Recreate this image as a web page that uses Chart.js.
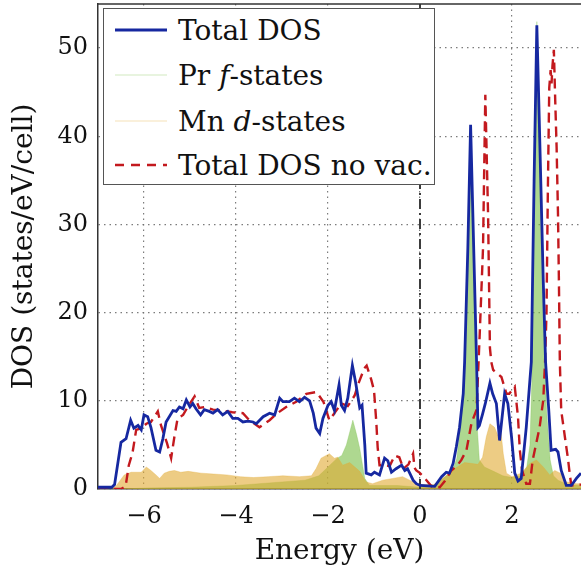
<!DOCTYPE html>
<html>
<head>
<meta charset="utf-8">
<script src="https://cdn.jsdelivr.net/npm/chart.js@4.4.1/dist/chart.umd.min.js"></script>
<style>
  html, body { margin: 0; padding: 0; background: #fff; }
  #wrap { position: relative; width: 581px; height: 575px; overflow: hidden; }
  #dos { position: absolute; left: 0; top: 0; }
  #legend {
    position: absolute; left: 103px; top: 8px; width: 330px; height: 175px;
    border: 1.5px solid #555; background: #fff;
    font-family: 'DejaVu Serif', serif; font-size: 28px; color: #111;
  }
  .row { position: absolute; left: 0; height: 40px; display: flex; align-items: center; white-space: nowrap; }
  .row svg { margin-left: 11px; margin-right: 11px; }
</style>
</head>
<body>
<div id="wrap">
  <canvas id="dos" width="581" height="575"></canvas>
  <div id="legend">
    <div class="row" style="top:1px"><svg width="52" height="6"><line x1="0" y1="3" x2="52" y2="3" stroke="rgb(22,40,160)" stroke-width="2.8"/></svg>Total DOS</div>
    <div class="row" style="top:46px"><svg width="52" height="6"><line x1="0" y1="3" x2="52" y2="3" stroke="rgba(120,190,70,0.35)" stroke-width="1"/></svg>Pr&nbsp;<i>f</i>-states</div>
    <div class="row" style="top:92px"><svg width="52" height="6"><line x1="0" y1="3" x2="52" y2="3" stroke="rgba(225,170,50,0.35)" stroke-width="1"/></svg>Mn&nbsp;<i>d</i>-states</div>
    <div class="row" style="top:136px"><svg width="52" height="6"><line x1="0" y1="3" x2="52" y2="3" stroke="rgb(195,25,30)" stroke-width="2.4" stroke-dasharray="9 7"/></svg>Total DOS no vac.</div>
  </div>
</div>
<script>
// Total DOS (with vacancy)
const totalE = [-7.0,-6.7,-6.64,-6.5,-6.39,-6.29,-6.22,-6.13,-6.06,-6.0,
  -5.92,-5.85,-5.74,-5.66,-5.59,-5.52,-5.37,-5.3,-5.23,-5.15,
  -5.08,-5.0,-4.94,-4.87,-4.77,-4.69,-4.58,-4.5,-4.4,-4.29,
  -4.18,-4.07,-3.96,-3.85,-3.74,-3.63,-3.56,-3.41,-3.27,-3.16,
  -3.05,-2.98,-2.84,-2.73,-2.62,-2.51,-2.4,-2.32,-2.26,-2.18,
  -2.11,-2.0,-1.93,-1.86,-1.76,-1.71,-1.64,-1.57,-1.47,-1.4,
  -1.31,-1.26,-1.2,-1.17,-1.06,-0.99,-0.88,-0.77,-0.7,-0.62,
  -0.52,-0.4,-0.33,-0.27,-0.15,-0.08,0.0,0.32,0.47,0.57,
  0.64,0.72,0.79,0.86,0.94,0.97,1.04,1.1,1.23,1.26,
  1.29,1.36,1.42,1.52,1.58,1.66,1.73,1.84,1.91,1.99,
  2.06,2.13,2.2,2.31,2.39,2.42,2.48,2.54,2.59,2.68,
  2.73,2.8,2.85,2.95,3.0,3.07,3.18,3.29,3.4,3.5];
const totalDos = [0.2,0.2,0.5,5.3,5.7,7.8,6.9,7.2,6.7,8.4,
  8.2,7.0,4.4,4.2,5.7,7.6,8.9,8.8,9.3,9.1,
  10.1,9.3,9.7,9.1,8.4,9.0,8.8,8.6,9.0,8.4,
  8.8,8.0,8.0,7.6,7.7,7.6,7.4,8.2,8.6,8.4,
  10.3,9.9,9.9,10.3,9.9,10.4,10.0,8.6,6.9,6.3,
  8.0,9.5,9.9,8.9,11.8,9.5,8.9,10.3,14.0,12.1,
  9.2,9.5,5.0,1.8,1.6,1.9,1.6,3.5,3.2,1.9,
  2.3,2.7,2.1,2.3,1.0,0.6,0.4,0.3,1.4,1.9,
  1.8,2.9,4.8,7.0,10.8,14.4,27.3,41.3,14.4,7.0,
  7.2,8.5,9.7,12.0,10.8,9.7,5.5,10.8,9.7,5.9,
  1.8,0.9,1.2,7.0,12.4,14.4,34.9,52.6,42.4,23.5,
  14.4,8.9,4.4,4.5,4.2,2.1,0.4,0.4,1.2,1.8];

// Total DOS without vacancy
const noVacE = [-7.0,-6.5,-6.4,-6.33,-6.25,-6.17,-6.06,-5.95,-5.85,-5.7,
  -5.63,-5.5,-5.41,-5.34,-5.27,-5.15,-5.05,-4.9,-4.8,-4.68,
  -4.5,-4.29,-4.08,-3.85,-3.71,-3.49,-3.27,-3.1,-2.91,-2.69,
  -2.47,-2.25,-2.1,-1.97,-1.86,-1.71,-1.57,-1.42,-1.35,-1.21,
  -1.16,-1.06,-1.0,-0.95,-0.92,-0.88,-0.77,-0.66,-0.55,-0.45,
  -0.36,-0.25,-0.15,-0.12,-0.08,0.0,0.14,0.25,0.43,0.54,
  0.68,0.8,0.9,1.01,1.12,1.23,1.3,1.37,1.42,1.48,
  1.52,1.55,1.59,1.77,1.88,1.94,2.06,2.13,2.17,2.22,
  2.31,2.39,2.45,2.52,2.6,2.68,2.72,2.75,2.78,2.81,
  2.84,2.86,2.88,2.91,2.94,2.97,3.0,3.02,3.04,3.07,
  3.15,3.22,3.26,3.29,3.5];
const noVacDos = [0,0,0.3,2.7,4.1,6.7,6.9,7.4,7.6,8.8,
  7.2,5.2,3.5,5.9,8.0,8.4,9.3,10.5,9.2,9.3,
  9.0,8.9,8.7,8.6,7.8,7.0,7.8,8.6,9.3,9.9,
  10.8,11.0,9.9,7.8,8.6,9.7,9.4,10.6,11.8,13.7,
  14.0,12.4,11.2,7.6,4.7,2.7,2.7,2.6,3.8,3.6,
  2.3,2.8,4.0,2.4,2.1,1.8,1.0,0.3,0.2,0.9,
  2.1,2.6,3.3,4.4,7.5,9.0,17.8,27.3,44.7,31.1,
  16.0,14.4,13.5,12.7,10.8,10.8,11.6,8.2,4.4,2.1,
  0.6,0.6,3.3,5.0,7.0,10.1,14.6,20.0,34.1,45.5,
  47.5,46.0,48.0,49.8,44.0,38.7,31.1,23.5,14.4,8.9,
  5.9,3.3,1.5,0.4,0.5];

// Pr f-states
const prE = [-7.0,-6.5,-6.0,-5.0,-4.0,-3.0,-2.5,-2.2,-2.0,-1.8,
  -1.7,-1.6,-1.46,-1.38,-1.31,-1.2,-1.1,-0.5,0.0,0.3,
  0.5,0.7,0.8,0.88,0.94,0.97,1.04,1.1,1.16,1.22,
  1.29,1.4,1.6,1.8,2.0,2.2,2.32,2.39,2.43,2.48,
  2.54,2.59,2.68,2.75,2.83,2.9,3.0,3.2,3.5];
const prF = [0,0,0.1,0.2,0.4,0.8,1.0,1.5,2.5,3.5,
  3.8,5.0,7.8,6.2,4.6,1.2,0.4,0.4,0.2,0.3,
  1.2,2.0,3.5,7.0,10.5,14.0,27.0,41.0,28.0,9.0,
  3.3,2.5,2.0,1.5,1.3,1.5,2.5,5.0,12.0,34.5,
  53.0,42.0,23.0,9.0,3.3,1.5,1.0,0.5,0.4];

// Mn d-states
const mnE = [-7.0,-6.7,-6.6,-6.43,-6.28,-6.06,-5.95,-5.85,-5.74,-5.66,
  -5.56,-5.45,-5.34,-5.2,-5.04,-4.76,-4.49,-4.2,-3.91,-3.62,
  -3.3,-2.98,-2.62,-2.36,-2.26,-2.15,-1.97,-1.86,-1.79,-1.68,
  -1.53,-1.31,-1.17,-1.03,-0.81,-0.59,-0.38,-0.15,0.0,0.3,
  0.54,0.75,0.97,1.26,1.36,1.44,1.52,1.62,1.7,1.75,
  1.81,1.88,2.0,2.2,2.39,2.53,2.68,2.82,2.93,3.05,
  3.18,3.4,3.5];
const mnD = [0,0,0.4,1.6,1.9,1.9,2.5,2.1,1.6,1.2,
  1.8,2.0,2.1,1.9,2.0,1.8,1.7,1.6,1.4,1.3,
  1.4,1.5,1.4,1.5,2.3,3.5,4.0,3.5,3.6,2.7,
  3.0,2.0,0.8,0.6,1.0,1.2,1.4,0.8,0.5,0.5,
  1.4,2.3,3.0,2.8,3.6,5.9,7.4,7.0,6.0,7.0,
  4.0,1.8,1.4,1.8,2.9,3.3,2.5,1.6,2.1,1.8,
  0.8,0.6,0.6];

const fermiE = 0;
const xRange = [-7, 3.5];
const yRange = [0, 55];
const xTicks = [-6, -4, -2, 0, 2];
const xTickLabels = ['\u22126', '\u22124', '\u22122', '0', '2'];
const yTicks = [0, 10, 20, 30, 40, 50];

const pts = (xs, ys) => xs.map((x, i) => ({ x: x, y: ys[i] }));

Chart.defaults.font.family = "'DejaVu Serif', serif";
Chart.defaults.color = '#111';

// top edge of the axis box (left/bottom come from the scales)
const framePlugin = {
  id: 'frame',
  afterDraw(chart) {
    const a = chart.chartArea;
    const c = chart.ctx;
    c.save();
    c.strokeStyle = '#333';
    c.lineWidth = 1.5;
    c.beginPath();
    c.moveTo(a.left, a.top);
    c.lineTo(a.right, a.top);
    c.stroke();
    c.restore();
  }
};

const gridStyle = { color: 'rgba(110,110,110,0.9)', lineWidth: 1.2, drawTicks: false };
const borderStyle = { color: '#333', width: 1.5, dash: [1.5, 4] };

new Chart(document.getElementById('dos'), {
  type: 'line',
  data: {
    datasets: [
      {
        label: 'Total DOS',
        data: pts(totalE, totalDos),
        borderColor: 'rgb(22,40,160)',
        borderWidth: 2.8,
        fill: false
      },
      {
        label: 'Total DOS no vac.',
        data: pts(noVacE, noVacDos),
        borderColor: 'rgb(195,25,30)',
        borderWidth: 2.4,
        borderDash: [10, 6],
        fill: false
      },
      {
        label: 'Fermi level',
        data: pts([fermiE, fermiE], yRange),
        borderColor: 'rgb(60,60,60)',
        borderWidth: 2,
        borderDash: [10, 4, 2, 4],
        fill: false
      },
      {
        label: 'Mn d-states',
        data: pts(mnE, mnD),
        borderColor: 'rgba(225,170,50,0.3)',
        backgroundColor: 'rgba(225,170,50,0.6)',
        borderWidth: 1,
        fill: 'origin'
      },
      {
        label: 'Pr f-states',
        data: pts(prE, prF),
        borderColor: 'rgba(120,190,70,0.3)',
        backgroundColor: 'rgba(120,190,70,0.6)',
        borderWidth: 1,
        fill: 'origin'
      }
    ]
  },
  options: {
    responsive: false,
    animation: false,
    layout: { padding: { top: 4, left: 0, right: 0, bottom: 0 } },
    elements: { point: { radius: 0 }, line: { tension: 0 } },
    plugins: { legend: { display: false }, tooltip: { enabled: false } },
    scales: {
      x: {
        type: 'linear',
        min: xRange[0],
        max: xRange[1],
        afterBuildTicks: s => { s.ticks = xTicks.map(v => ({ value: v })); },
        afterFit: s => { s.height = 86; s.paddingLeft = 0; s.paddingRight = 0; },
        ticks: {
          autoSkip: false,
          maxRotation: 0,
          padding: 13,
          font: { size: 24 },
          callback: (v, i) => xTickLabels[i]
        },
        grid: gridStyle,
        border: borderStyle,
        title: { display: true, text: 'Energy (eV)', font: { size: 28 }, padding: { top: 0, bottom: 6 } }
      },
      y: {
        min: yRange[0],
        max: yRange[1],
        afterBuildTicks: s => { s.ticks = yTicks.map(v => ({ value: v })); },
        afterFit: s => { s.width = 98; s.paddingTop = 0; s.paddingBottom = 0; },
        ticks: { padding: 10, font: { size: 24 } },
        grid: gridStyle,
        border: borderStyle,
        title: { display: true, text: 'DOS (states/eV/cell)', font: { size: 28 }, padding: { top: 8, bottom: 0 } }
      }
    }
  },
  plugins: [framePlugin]
});
</script>
</body>
</html>
